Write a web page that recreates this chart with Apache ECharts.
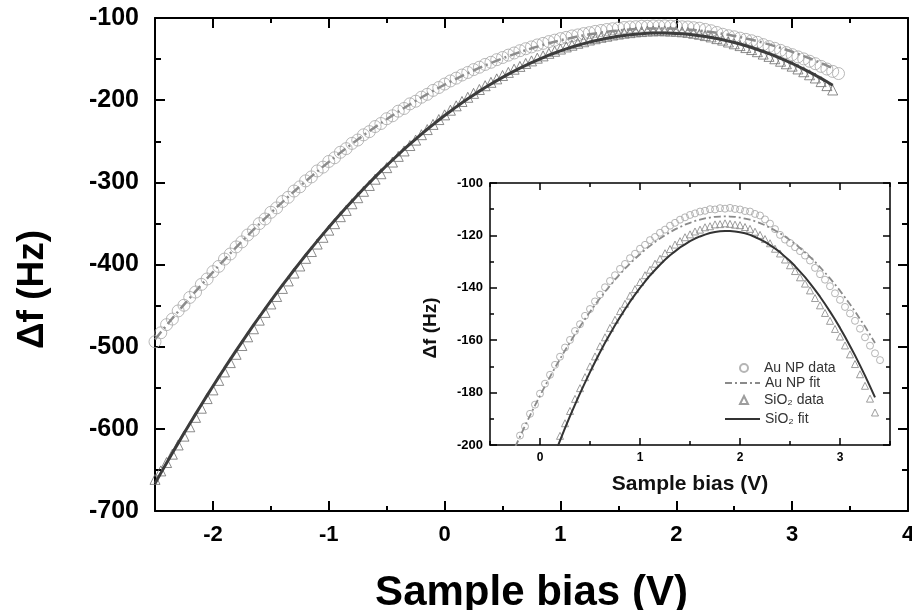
<!DOCTYPE html>
<html><head><meta charset="utf-8">
<script src="https://cdn.jsdelivr.net/npm/echarts@6/dist/echarts.min.js"></script>
<style>html,body{margin:0;padding:0;background:#fff}#c{width:912px;height:610px}</style>
</head><body><div id="c"></div>
<script>
const biasV = [-2.5,-2.45,-2.4,-2.35,-2.3,-2.25,-2.2,-2.15,-2.1,-2.05,-2,-1.95,-1.9,-1.85,-1.8,-1.75,-1.7,-1.65,-1.6,-1.55,-1.5,-1.45,-1.4,-1.35,-1.3,-1.25,-1.2,-1.15,-1.1,-1.05,-1,-0.95,-0.9,-0.85,-0.8,-0.75,-0.7,-0.65,-0.6,-0.55,-0.5,-0.45,-0.4,-0.35,-0.3,-0.25,-0.2,-0.15,-0.1,-0.05,0,0.05,0.1,0.15,0.2,0.25,0.3,0.35,0.4,0.45,0.5,0.55,0.6,0.65,0.7,0.75,0.8,0.85,0.9,0.95,1,1.05,1.1,1.15,1.2,1.25,1.3,1.35,1.4,1.45,1.5,1.55,1.6,1.65,1.7,1.75,1.8,1.85,1.9,1.95,2,2.05,2.1,2.15,2.2,2.25,2.3,2.35,2.4,2.45,2.5,2.55,2.6,2.65,2.7,2.75,2.8,2.85,2.9,2.95,3,3.05,3.1,3.15,3.2,3.25,3.3,3.35,3.4];

const auData = [-494.0,-483.1,-473.2,-466.4,-456.5,-449.6,-440.1,-433.5,-424.2,-417.6,
-408.7,-402.3,-393.4,-387.2,-378.6,-372.5,-364.1,-358.3,-350.2,-344.6,
-336.5,-331.1,-323.3,-318.2,-310.6,-305.5,-298.2,-293.4,-286.1,-281.5,
-274.6,-270.1,-263.4,-259.0,-252.6,-248.5,-242.2,-238.3,-232.1,-228.4,
-222.6,-219.0,-213.4,-210.1,-204.5,-201.3,-196.4,-192.9,-188.1,-184.6,
-180.4,-176.6,-173.2,-169.4,-166.3,-162.8,-159.9,-156.5,-153.9,-150.7,
-148.1,-145.2,-142.6,-139.8,-137.4,-135.2,-132.8,-130.9,-128.7,-127.0,
-125.1,-123.6,-121.8,-120.6,-119.0,-117.8,-116.3,-115.2,-114.0,-113.1,
-112.2,-111.6,-110.9,-110.6,-110.0,-110.1,-109.6,-109.8,-109.5,-109.9,
-110.1,-110.7,-110.9,-111.8,-112.4,-113.9,-115.5,-117.6,-119.8,-121.6,
-122.9,-124.5,-126.0,-127.7,-129.6,-132.4,-134.8,-136.9,-139.4,-142.1,
-144.6,-147.3,-149.8,-152.6,-155.6,-158.9,-162.1,-165.0,-167.6];

const auFit = [-491.2,-482.5,-474.0,-465.5,-457.2,-448.9,-440.8,-432.7,-424.8,-416.9,
-409.2,-401.5,-394.0,-386.5,-379.2,-371.9,-364.8,-357.7,-350.8,-343.9,
-337.2,-330.5,-324.0,-317.5,-311.2,-304.9,-298.8,-292.7,-286.8,-280.9,
-275.2,-269.5,-264.0,-258.5,-253.2,-247.9,-242.8,-237.7,-232.8,-227.9,
-223.2,-218.5,-214.0,-209.5,-205.2,-200.9,-196.8,-192.7,-188.8,-184.9,
-181.2,-177.5,-174.0,-170.5,-167.2,-163.9,-160.8,-157.7,-154.8,-151.9,
-149.2,-146.5,-144.0,-141.5,-139.2,-136.9,-134.8,-132.7,-130.8,-128.9,
-127.2,-125.5,-124.0,-122.5,-121.2,-119.9,-118.8,-117.7,-116.8,-115.9,
-115.2,-114.5,-114.0,-113.5,-113.2,-112.9,-112.8,-112.7,-112.8,-112.9,
-113.2,-113.6,-114.0,-114.6,-115.3,-116.1,-117.1,-118.1,-119.2,-120.4,
-121.8,-123.2,-124.8,-126.5,-128.2,-130.1,-132.1,-134.2,-136.4,-138.7,
-141.1,-143.7,-146.3,-149.0,-151.9,-154.8,-157.9,-161.1];

const siData = [-661.5,-651.2,-641.0,-630.8,-619.6,-608.9,-597.5,-586.0,-574.9,-563.2,
-552.6,-541.0,-530.7,-519.4,-509.3,-498.6,-488.0,-478.2,-467.7,-458.3,
-448.0,-438.9,-429.1,-420.0,-410.4,-401.8,-392.5,-384.2,-375.1,-366.9,
-358.2,-350.3,-341.8,-334.2,-326.1,-318.7,-310.9,-303.8,-296.2,-289.5,
-282.1,-275.3,-268.4,-261.8,-255.2,-248.6,-242.0,-235.8,-229.5,-223.6,
-217.9,-212.2,-206.9,-201.6,-196.5,-191.7,-187.0,-182.4,-178.3,-174.1,
-170.0,-166.2,-162.3,-158.9,-155.3,-152.2,-148.9,-146.1,-143.0,-140.5,
-137.8,-135.2,-133.1,-130.8,-128.9,-126.8,-125.2,-123.5,-122.2,-120.7,
-119.6,-118.5,-117.8,-116.9,-116.5,-115.8,-115.7,-115.4,-115.6,-115.9,
-116.1,-116.8,-117.5,-118.6,-119.8,-121.4,-123.0,-125.1,-126.9,-129.2,
-131.4,-133.6,-136.0,-138.4,-141.0,-143.9,-146.7,-149.6,-152.6,-155.7,
-158.6,-162.0,-165.4,-169.1,-173.0,-177.4,-182.3,-187.6];

const siFit = [-666.4,-653.9,-641.6,-629.4,-617.4,-605.5,-593.7,-582.1,-570.6,-559.3,
-548.1,-537.1,-526.2,-515.5,-504.9,-494.4,-484.1,-473.9,-463.9,-454.0,
-444.2,-434.6,-425.2,-415.9,-406.7,-397.7,-388.8,-380.1,-371.5,-363.0,
-354.7,-346.5,-338.5,-330.6,-322.9,-315.3,-307.9,-300.6,-293.4,-286.4,
-279.5,-272.8,-266.2,-259.7,-253.5,-247.3,-241.3,-235.4,-229.7,-224.1,
-218.7,-213.4,-208.2,-203.2,-198.3,-193.6,-189.0,-184.6,-180.3,-176.2,
-172.2,-168.3,-164.6,-161.0,-157.6,-154.3,-151.2,-148.2,-145.3,-142.6,
-140.0,-137.6,-135.3,-133.2,-131.2,-129.3,-127.6,-126.1,-124.6,-123.4,
-122.2,-121.2,-120.4,-119.7,-119.1,-118.7,-118.4,-118.3,-118.3,-118.5,
-118.8,-119.2,-119.8,-120.6,-121.5,-122.5,-123.7,-125.0,-126.4,-128.1,
-129.8,-131.7,-133.8,-135.9,-138.3,-140.8,-143.4,-146.2,-149.1,-152.1,
-155.3,-158.7,-162.2,-165.8,-169.6,-173.5,-177.6,-181.8];

const mainXTicks = [-2, -1, 0, 1, 2, 3, 4];
const insetXTicks = [0, 1, 2, 3];
const seriesNames = ['Au NP data', 'Au NP fit', 'SiO\u2082 data', 'SiO\u2082 fit'];

const FONT = '"Liberation Sans", Arial, "DejaVu Sans", sans-serif';
const pairs = a => a.map((y, i) => [biasV[i], y]);

function xAx(grid, pos, min, max, o) {
  return {
    type: 'value', gridIndex: grid, position: pos, min: min, max: max,
    interval: o.interval, splitLine: { show: false },
    axisLine: { show: o.line, onZero: false, lineStyle: { color: '#000', width: o.lw } },
    axisTick: Object.assign({ show: true, inside: true, length: o.tl, lineStyle: { color: '#000', width: o.lw } },
      o.custom ? { customValues: o.custom } : {}),
    axisLabel: o.label ? Object.assign({ show: true, color: '#000', fontFamily: FONT, fontWeight: 'bold' }, o.label) : { show: false },
    name: o.name || '', nameLocation: 'middle', nameGap: o.nameGap || 0,
    nameTextStyle: o.nameStyle || {}
  };
}
function yAx(grid, pos, min, max, o) {
  return {
    type: 'value', gridIndex: grid, position: pos, min: min, max: max,
    interval: o.interval, splitLine: { show: false }, minorSplitLine: { show: false },
    axisLine: { show: true, onZero: false, lineStyle: { color: '#000', width: o.lw } },
    axisTick: { show: true, inside: true, length: o.tl, lineStyle: { color: '#000', width: o.lw } },
    minorTick: { show: true, splitNumber: 2, length: o.ml, lineStyle: { color: '#000', width: o.lw } },
    axisLabel: o.label ? Object.assign({ show: true, color: '#000', fontFamily: FONT, fontWeight: 'bold' }, o.label) : { show: false },
    name: o.name || '', nameLocation: 'middle', nameGap: o.nameGap || 0, nameRotate: 90,
    nameTextStyle: o.nameStyle || {}
  };
}

const mainLabel = { fontSize: 22, margin: 13, formatter: v => mainXTicks.includes(v) ? String(v) : '' };
const insetLabel = { fontSize: 12, margin: 7, formatter: v => insetXTicks.includes(v) ? String(v) : '' };

const xAxis = [
  xAx(0, 'bottom', -2.5, 4, { interval: 0.5, line: true, lw: 2, tl: 5, label: mainLabel,
      name: 'Sample bias (V)', nameGap: 61, nameStyle: { fontFamily: FONT, fontWeight: 'bold', fontSize: 42, color: '#000' } }),
  xAx(0, 'bottom', -2.5, 4, { line: false, lw: 2, tl: 10, custom: mainXTicks }),
  xAx(0, 'top', -2.5, 4, { interval: 0.5, line: true, lw: 2, tl: 5 }),
  xAx(0, 'top', -2.5, 4, { line: false, lw: 2, tl: 10, custom: mainXTicks }),
  xAx(1, 'bottom', -0.5, 3.5, { interval: 0.5, line: true, lw: 1.5, tl: 4, label: insetLabel,
      name: 'Sample bias (V)', nameGap: 29, nameStyle: { fontFamily: FONT, fontWeight: 'bold', fontSize: 21, color: '#111' } }),
  xAx(1, 'bottom', -0.5, 3.5, { line: false, lw: 1.5, tl: 7, custom: insetXTicks }),
  xAx(1, 'top', -0.5, 3.5, { interval: 0.5, line: true, lw: 1.5, tl: 4 }),
  xAx(1, 'top', -0.5, 3.5, { line: false, lw: 1.5, tl: 7, custom: insetXTicks })
];
const yAxis = [
  yAx(0, 'left', -700, -100, { interval: 100, lw: 2, tl: 10, ml: 6, label: { fontSize: 25, margin: 16 },
      name: '\u0394f (Hz)', nameGap: 104,
      nameStyle: { fontFamily: FONT, fontWeight: 'bold', fontSize: 37, color: '#000', padding: [0, 50, 0, 0] } }),
  yAx(0, 'right', -700, -100, { interval: 100, lw: 2, tl: 10, ml: 6 }),
  yAx(1, 'left', -200, -100, { interval: 20, lw: 1.5, tl: 7, ml: 4, label: { fontSize: 13, margin: 7 },
      name: '\u0394f (Hz)', nameGap: 50,
      nameStyle: { fontFamily: FONT, fontWeight: 'bold', fontSize: 19, color: '#111', padding: [0, 28, 0, 0] } }),
  yAx(1, 'right', -200, -100, { interval: 20, lw: 1.5, tl: 7, ml: 4 })
];

const hollow = c => ({ color: 'rgba(255,255,255,0)', borderColor: c, borderWidth: 1 });
const dashDotMain = [10, 4, 2, 4];
const dashDotInset = [7, 3, 2, 3];

const series = [
  { name: seriesNames[0], type: 'scatter', xAxisIndex: 4, yAxisIndex: 2, data: pairs(auData),
    symbol: 'circle', symbolSize: 7, itemStyle: hollow('#a2a2a2'), z: 3 },
  { name: seriesNames[1], type: 'line', xAxisIndex: 4, yAxisIndex: 2, data: pairs(auFit),
    symbol: 'none', lineStyle: { color: '#8a8a8a', width: 1.8, type: dashDotInset }, itemStyle: { color: '#8a8a8a' }, z: 4 },
  { name: seriesNames[2], type: 'scatter', xAxisIndex: 4, yAxisIndex: 2, data: pairs(siData),
    symbol: 'triangle', symbolSize: 7, itemStyle: hollow('#858585'), z: 3 },
  { name: seriesNames[3], type: 'line', xAxisIndex: 4, yAxisIndex: 2, data: pairs(siFit),
    symbol: 'none', lineStyle: { color: '#333', width: 2 }, itemStyle: { color: '#333' }, z: 4 },
  { name: seriesNames[0], type: 'scatter', xAxisIndex: 0, yAxisIndex: 0, data: pairs(auData),
    symbol: 'circle', symbolSize: 12, itemStyle: hollow('#a6a6a6'), z: 3 },
  { name: seriesNames[1], type: 'line', xAxisIndex: 0, yAxisIndex: 0, data: pairs(auFit),
    symbol: 'none', lineStyle: { color: '#8c8c8c', width: 2.5, type: dashDotMain }, z: 4 },
  { name: seriesNames[2], type: 'scatter', xAxisIndex: 0, yAxisIndex: 0, data: pairs(siData),
    symbol: 'triangle', symbolSize: 10, itemStyle: hollow('#6e6e6e'), z: 3 },
  { name: seriesNames[3], type: 'line', xAxisIndex: 0, yAxisIndex: 0, data: pairs(siFit),
    symbol: 'none', lineStyle: { color: '#3c3c3c', width: 3 }, z: 4 }
];

const legendText = { fontFamily: FONT, fontSize: 14, color: '#333' };
const legendRowTop = [361, 376, 393, 412];
function legendRow(i) {
  const isLine = (i % 2) === 1;
  return {
    data: [isLine ? { name: seriesNames[i], itemStyle: { opacity: 0 } } : { name: seriesNames[i] }],
    orient: 'vertical', top: legendRowTop[i], padding: 0, selectedMode: false,
    left: isLine ? 724 : 739,
    itemWidth: isLine ? 35 : 8, itemHeight: 8,
    textStyle: Object.assign({}, legendText, { padding: [0, 0, 0, isLine ? 0 : 11] })
  };
}

const chart = echarts.init(document.getElementById('c'), null, { renderer: 'canvas' });
chart.setOption({
  animation: false,
  backgroundColor: '#fff',
  grid: [
    { left: 155, top: 18, width: 753, height: 493, containLabel: false, outerBoundsMode: 'none' },
    { left: 490, top: 183, width: 400, height: 262, show: true, backgroundColor: '#fff', borderWidth: 0,
      containLabel: false, outerBoundsMode: 'none' }
  ],
  legend: [legendRow(0), legendRow(1), legendRow(2), legendRow(3)],
  xAxis: xAxis,
  yAxis: yAxis,
  series: series
});
</script></body></html>
